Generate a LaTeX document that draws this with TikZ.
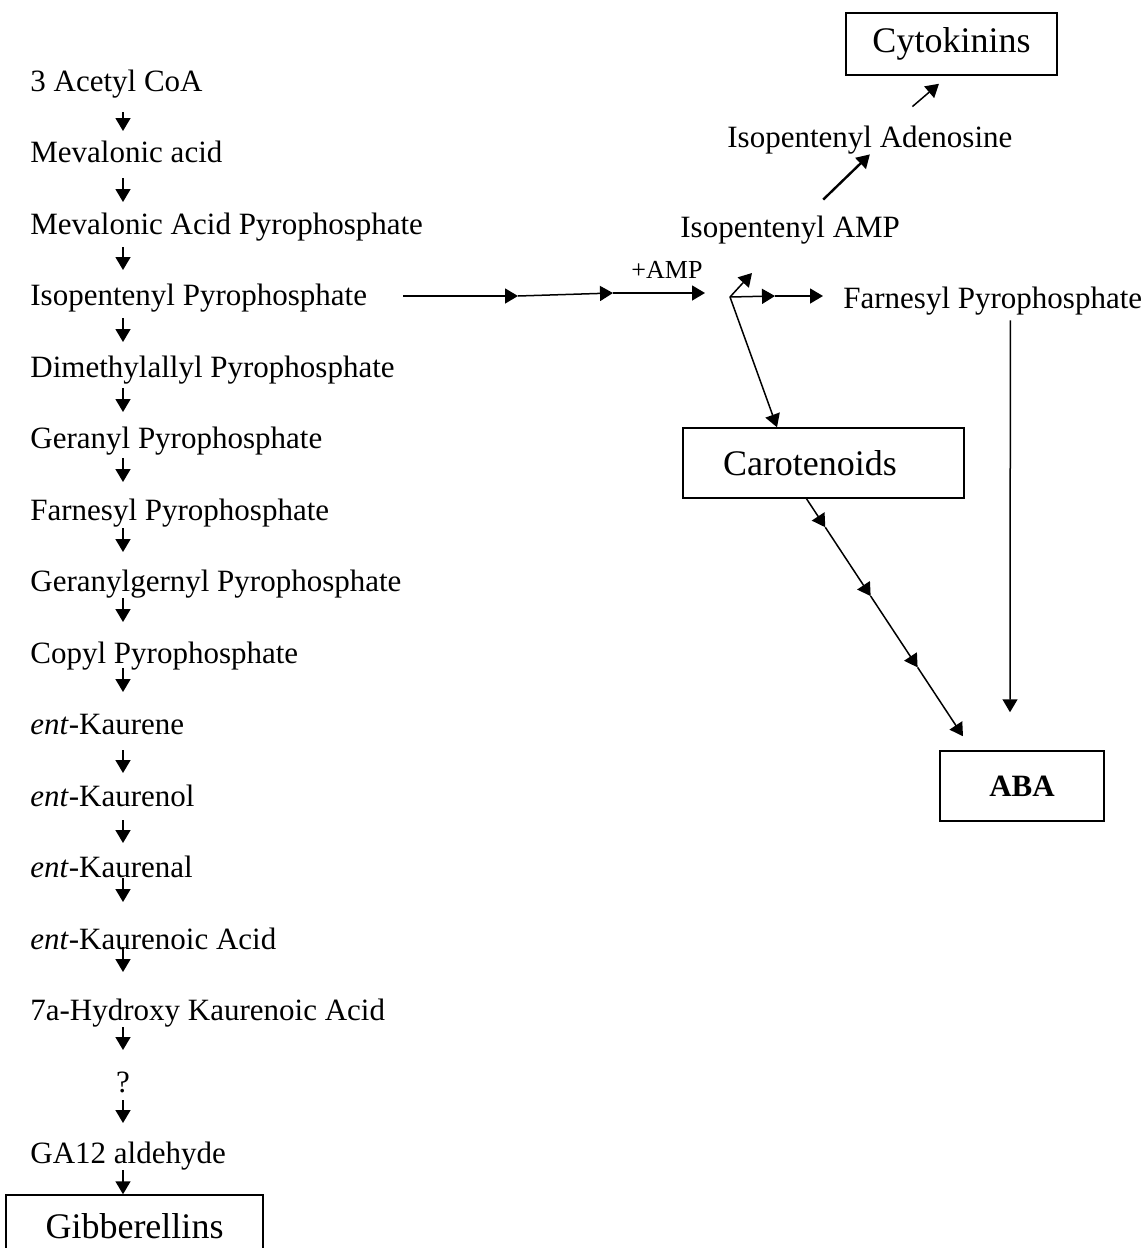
\documentclass[tikz,border=0pt]{standalone}
\usepackage{fontspec}
\setmainfont{Liberation Serif}
\usetikzlibrary{arrows.meta,calc}
\tikzset{
  react/.style={-{Triangle[length=6.5pt,width=7.5pt]},draw=black,line width=0.75pt},
  compound/.style={anchor=base west,inner sep=0pt,text height=10.5pt,text depth=3.5pt},
  hormone/.style={draw=black,line width=0.75pt,font=\fontsize{18}{21}\selectfont,inner sep=0pt,align=center},
  small label/.style={font=\fontsize{13}{15}\selectfont,inner sep=0pt}
}

\begin{document}
\begin{tikzpicture}[x=0.5pt,y=-0.5pt,font=\fontsize{15.5}{18}\selectfont]
  \useasboundingbox (0,0) rectangle (1146,1248);

  % left column: the gibberellin route
  \node[compound] (acoa)  at (30,91)     {3 Acetyl CoA};
  \node[compound] (mva)   at (30,162.5)  {Mevalonic acid};
  \node[compound] (mvpp)  at (30,234)    {Mevalonic Acid Pyrophosphate};
  \node[compound] (ipp)   at (30,305.5)  {Isopentenyl Pyrophosphate};
  \node[compound] (dmapp) at (30,377)    {Dimethylallyl Pyrophosphate};
  \node[compound] (gpp)   at (30,448.5)  {Geranyl Pyrophosphate};
  \node[compound] (fpp)   at (30,520)    {Farnesyl Pyrophosphate};
  \node[compound] (ggpp)  at (30,591.5)  {Geranylgernyl Pyrophosphate};
  \node[compound] (cpp)   at (30,663)    {Copyl Pyrophosphate};
  \node[compound] (kene)  at (30,734.5)  {\textit{ent}-Kaurene};
  \node[compound] (kol)   at (30,806)    {\textit{ent}-Kaurenol};
  \node[compound] (kal)   at (30,877.5)  {\textit{ent}-Kaurenal};
  \node[compound] (kacid) at (30,949)    {\textit{ent}-Kaurenoic Acid};
  \node[compound] (hka)   at (30,1020.5) {7a-Hydroxy Kaurenoic Acid};
  \node[compound,anchor=base] (unk) at (123,1092) {?};
  \node[compound] (ga)    at (30,1163.5) {GA12 aldehyde};
  \node[hormone,minimum width=128.5pt,minimum height=31pt] (gib) at (134.5,1226) {Gibberellins};

  \coordinate (spine) at (123,0);
  \foreach \a/\b/\s/\e in {acoa/mva/10.5pt/15.75pt, mva/mvpp/7.75pt/16pt,
      mvpp/ipp/6.5pt/17.75pt, ipp/dmapp/6.25pt/17.5pt, dmapp/gpp/5.5pt/18.25pt,
      gpp/fpp/4.75pt/19pt, fpp/ggpp/4pt/19.75pt, ggpp/cpp/3.25pt/20.5pt,
      cpp/kene/2.5pt/21.25pt, kene/kol/7.75pt/16.5pt, kol/kal/7pt/17.25pt,
      kal/kacid/0.25pt/23.5pt, kacid/hka/-1pt/24.25pt, hka/unk/3.25pt/21pt,
      unk/ga/4pt/20.25pt}
    \draw[react,shorten <=\s,shorten >=\e] (\a.base -| spine) -- (\b.base -| spine);
  \draw[react,shorten <=3.25pt] (ga.base -| spine) -- (gib.north -| spine);

  % right side: cytokinins, carotenoids and ABA
  \node[compound] (iamp) at (680,237) {Isopentenyl AMP};
  \node[compound] (iad)  at (727,147) {Isopentenyl Adenosine};
  \node[compound] (fppr) at (843,308) {Farnesyl Pyrophosphate};
  \node[hormone,minimum width=105.5pt,minimum height=31pt] (cyto) at (951.5,44) {Cytokinins};
  \node[hormone,minimum height=35pt,inner xsep=20pt,text width=100.5pt,align=left] (car) at (823.5,463) {Carotenoids};
  \node[hormone,minimum width=82pt,minimum height=35pt,font=\fontsize{15.5}{18}\selectfont\bfseries] (aba) at (1022,786) {ABA};

  \coordinate (h1) at (518,296);
  \coordinate (h2) at (613,293);
  \coordinate (h3) at (705,293);
  \coordinate (fork) at (730,297);
  \coordinate (ampup) at (752,273);
  \coordinate (f1) at (775,296);

  \draw[react] ([shift={(36,-2.5)}]ipp.east) -- (h1);
  \draw[react] (h1) -- (h2);
  \draw[react] (h2) -- node[small label,midway,above=7pt,xshift=4pt] {+AMP} (h3);
  \draw[react] (fork) -- (ampup);
  \draw[react] (fork) -- (f1);
  \draw[react] (f1) -- ([shift={(-20,-5)}]fppr.west);
  \draw[react] (fork) -- ([shift={(-46.5,0)}]car.north);

  \draw[react,line width=1.2pt] ([shift={(33,-16)}]iamp.north) -- (iad.south);
  \draw[react] ([shift={(42.5,-19)}]iad.north) -- ([shift={(-12.5,8)}]cyto.south);

  \draw[react] ([shift={(17.6,5)}]fppr.south) -- ([shift={(-12,-38)}]aba.north);

  \coordinate (cs) at ([shift={(-17,0)}]car.south);
  \coordinate (ce) at ([shift={(-59,-14)}]aba.north);
  \coordinate (c1) at ($(cs)!0.12!(ce)$);
  \coordinate (c2) at ($(cs)!0.41!(ce)$);
  \coordinate (c3) at ($(cs)!0.71!(ce)$);
  \draw[react] (cs) -- (c1);
  \draw[react] (c1) -- (c2);
  \draw[react] (c2) -- (c3);
  \draw[react] (c3) -- (ce);
\end{tikzpicture}
\end{document}
